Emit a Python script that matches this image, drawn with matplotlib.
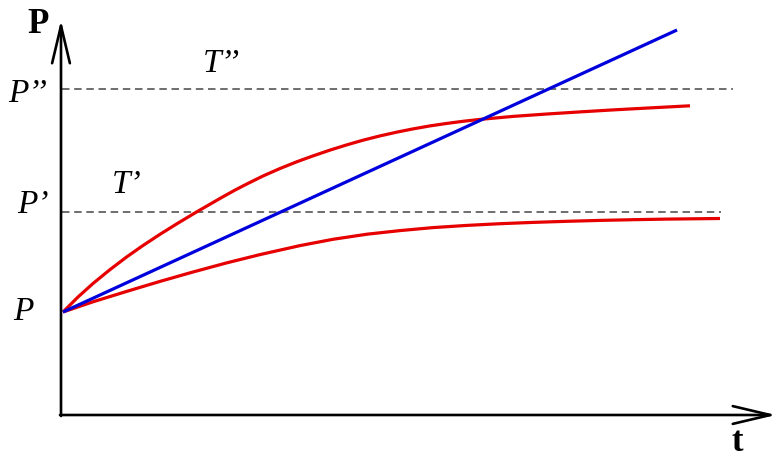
import matplotlib
matplotlib.use("Agg")
import matplotlib.pyplot as plt

# ---- data ----
t_fast = [0.02, 0.17, 0.32, 0.49, 0.66, 0.82, 0.99, 1.17, 1.36, 1.61, 1.74,
          1.86, 2.02, 2.19, 2.36, 2.52, 2.69, 2.86, 3.02, 3.19, 3.36, 3.52,
          3.69, 3.86, 4.02, 4.19, 4.52, 4.86, 5.19, 5.52, 5.89, 6.29]
p_fast = [1.03, 1.18, 1.315, 1.454, 1.583, 1.695, 1.807, 1.919, 2.033, 2.177,
          2.249, 2.311, 2.39, 2.465, 2.533, 2.591, 2.649, 2.702, 2.748, 2.791,
          2.829, 2.861, 2.891, 2.916, 2.937, 2.956, 2.986, 3.01, 3.031, 3.051,
          3.071, 3.092]

t_slow = [0.02, 0.32, 0.66, 0.99, 1.32, 1.66, 1.99, 2.39, 2.72, 3.06, 3.39,
          3.72, 4.06, 4.39, 4.72, 5.06, 5.39, 5.72, 6.06, 6.59]
p_slow = [1.03, 1.132, 1.237, 1.336, 1.43, 1.522, 1.604, 1.694, 1.757, 1.808,
          1.844, 1.874, 1.896, 1.913, 1.926, 1.937, 1.946, 1.953, 1.959, 1.965]

t_linear = [0.02, 6.16]
p_linear = [1.03, 3.85]

level_names = ["P\u2019", "P\u2019\u2019"]
level_values = [2.033, 3.265]
level_ends = [6.60, 6.72]

fig = plt.figure(figsize=(7.77, 4.59), dpi=100)
ax = fig.add_axes([0, 0, 1, 1])
ax.set_xlim(-0.61, 7.16)
ax.set_ylim(-0.44, 4.15)
ax.axis("off")

red = "#e60000"
blue = "#0000dd"

# dashed levels
for val, end in zip(level_values, level_ends):
    ax.plot([0.01, end], [val, val], color="#555555", lw=1.2,
            dashes=(4.5, 2.8))

ax.plot(t_fast, p_fast, color=red, lw=2.3, solid_capstyle="butt",
        solid_joinstyle="round")
ax.plot(t_slow, p_slow, color=red, lw=2.3, solid_capstyle="butt",
        solid_joinstyle="round")
ax.plot(t_linear, p_linear, color=blue, lw=2.3, solid_capstyle="butt")

# axes with arrows
arrow_kw = dict(arrowstyle="->,head_length=1.35,head_width=0.32",
                lw=1.9, color="black", mutation_scale=20,
                shrinkA=0, shrinkB=0)
ax.annotate("", xy=(0, 3.95), xytext=(0, -0.01), arrowprops=arrow_kw)
ax.annotate("", xy=(7.15, 0), xytext=(-0.01, 0), arrowprops=arrow_kw)

serif_i = dict(family="Liberation Serif", style="italic", fontsize=24)
serif_b = dict(family="Liberation Serif", weight="bold", fontsize=25)

ax.text(-0.34, 3.82, "P", ha="left", va="baseline", **serif_b)
ax.text(6.71, -0.437, "t", ha="left", va="bottom", **serif_b)

ax.text(-0.53, 3.13, level_names[1], ha="left", va="baseline", **serif_i)
ax.text(-0.44, 2.02, level_names[0], ha="left", va="baseline", **serif_i)
ax.text(-0.48, 0.95, "P", ha="left", va="baseline", **serif_i)
ax.text(1.42, 3.43, "T\u2019\u2019", ha="left", va="baseline", **serif_i)
ax.text(0.51, 2.22, "T\u2019", ha="left", va="baseline", **serif_i)

fig.savefig("out.png", dpi=100)
